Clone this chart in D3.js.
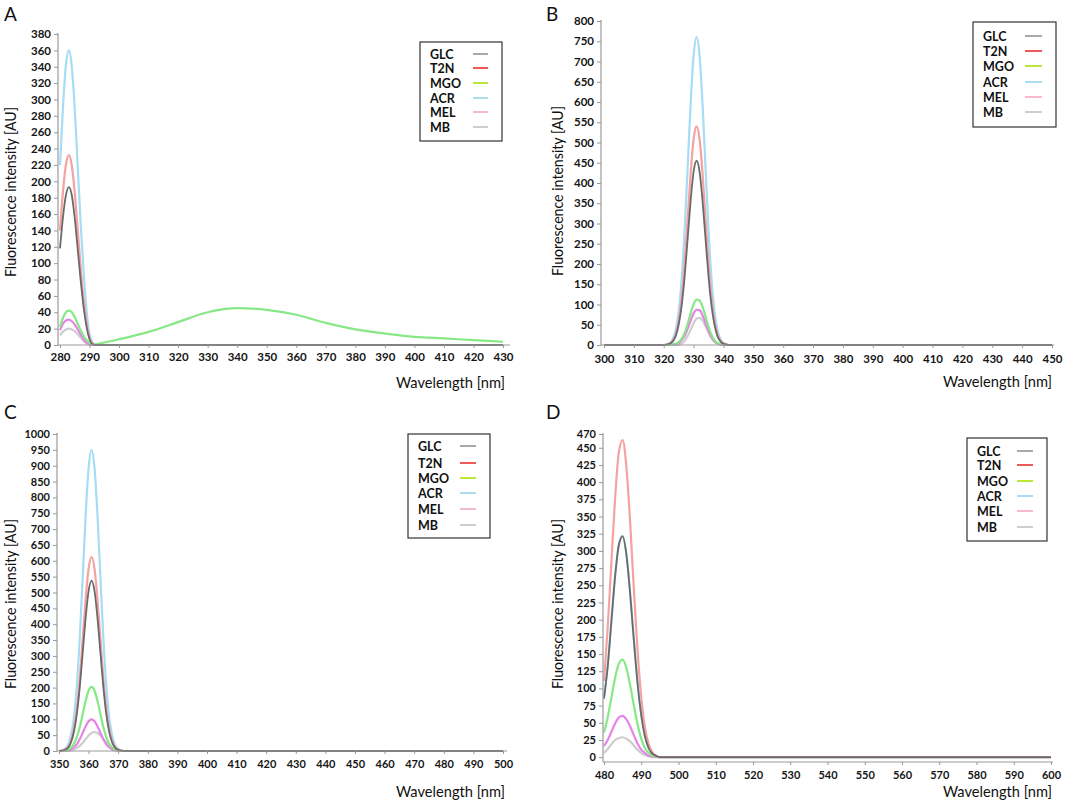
<!DOCTYPE html>
<html><head><meta charset="utf-8">
<script src="https://cdn.jsdelivr.net/npm/d3@7"></script>
<style>body{margin:0;background:#fff}svg{display:block}</style>
</head><body><svg id="c" width="1065" height="805"></svg>
<script>
// ---------- data ----------
const seriesNames = ["GLC","T2N","MGO","ACR","MEL","MB"];

// Panel A
const wlA  = [280,281,282,283,284,285,286,287,288,289,290,291,292,293,295,300,310,320,330,340,350,360,370,380,390,400,410,420,430];
const glcA = [118,156,183,193,183,155,117,79,46,22,7,1,0,0,0,0,0,0,0,0,0,0,0,0,0,0,0,0,0];
const t2nA = [140,187,220,232,219,186,141,95,56,27,9,2,0,0,0,0,0,0,0,0,0,0,0,0,0,0,0,0,0];
const mgoA = [22,33,40,42,40,34,26,18,11,6,3,1.5,1,1.5,3,7,16,28,40,45,43,37,27,19,14,10,8,6,4];
const acrA = [220,290,342,360,340,288,218,148,90,42,14,3,0,0,0,0,0,0,0,0,0,0,0,0,0,0,0,0,0];
const melA = [18,26,30,31,29,25,19,13,7,3,1,0,0,0,0,0,0,0,0,0,0,0,0,0,0,0,0,0,0];
const mbA  = [12,16,19,20,19,17,13,9,5,2,1,0,0,0,0,0,0,0,0,0,0,0,0,0,0,0,0,0,0];
const xTicksA = [280,290,300,310,320,330,340,350,360,370,380,390,400,410,420,430];
const yTicksA = [0,20,40,60,80,100,120,140,160,180,200,220,240,260,280,300,320,340,360,380];

// Panel B
const wlB  = [300,319,320,321,322,323,324,325,326,327,328,329,330,331,332,333,334,335,336,337,338,339,340,341,342,450];
const glcB = [0,0,0,1,3,9,22,50,97,169,262,356,428,455,428,356,262,169,97,50,22,9,3,1,0,0];
const t2nB = [0,0,0,1,4,10,26,59,116,201,311,422,508,540,508,422,311,201,116,59,26,10,4,1,0,0];
const mgoB = [0,0,0,0,0,1,3,7,16,30,52,78,101,112,110,94,70,45,25,12,5,2,1,0,0,0];
const acrB = [0,0,0,2,5,14,37,83,163,283,437,594,714,760,714,594,437,283,163,83,37,14,5,2,0,0];
const melB = [0,0,0,0,0,1,2,5,12,23,40,60,78,87,86,73,54,35,19,9,4,1,0,0,0,0];
const mbB  = [0,0,0,0,0,0,0,1,4,10,22,38,54,65,67,60,46,30,17,8,3,1,0,0,0,0];
const xTicksB = [300,310,320,330,340,350,360,370,380,390,400,410,420,430,440,450];
const yTicksB = [0,50,100,150,200,250,300,350,400,450,500,550,600,650,700,750,800];

// Panel C
const wlC  = [350,351,352,353,354,355,356,357,358,359,360,361,362,363,364,365,366,367,368,369,370,371,372,500];
const glcC = [0,1,4,10,26,59,115,200,309,420,505,537,505,420,309,200,115,59,26,10,4,1,0,0];
const t2nC = [0,1,4,12,30,67,131,228,352,479,575,612,575,479,352,228,131,67,30,12,4,1,0,0];
const mgoC = [0,0,1,4,10,22,43,75,116,158,190,202,190,158,116,75,43,22,10,4,1,0,0,0];
const acrC = [0,2,7,18,47,104,203,354,546,743,893,950,893,743,546,354,203,104,47,18,7,2,0,0];
const melC = [0,0,0,2,5,11,21,37,57,78,94,100,94,78,57,37,21,11,5,2,0,0,0,0];
const mbC  = [0,0,0,1,2,5,9,16,26,37,49,57,60,57,49,37,26,16,9,5,2,1,0,0];
const xTicksC = [350,360,370,380,390,400,410,420,430,440,450,460,470,480,490,500];
const yTicksC = [0,50,100,150,200,250,300,350,400,450,500,550,600,650,700,750,800,850,900,950,1000];

// Panel D
const wlD  = [480,481,482,483,484,485,486,487,488,489,490,491,492,493,494,495,496,600];
const glcD = [85,132,198,264,309,321,295,239,171,108,61,30,13,5,2,0,0,0];
const t2nD = [111,189,285,378,444,461,423,343,246,156,87,43,19,7,2,0,0,0];
const mgoD = [36,58,87,116,136,142,130,105,76,48,27,13,6,2,1,0,0,0];
const acrD = [87,134,200,265,310,322,296,240,172,109,62,31,14,5,2,0,0,0];
const melD = [16,25,37,49,58,60,55,45,32,20,11,6,2,1,0,0,0,0];
const mbD  = [6,12,19,25,28,29,27,23,17,11,6,3,1,0,0,0,0,0];
const xTicksD = [480,490,500,510,520,530,540,550,560,570,580,590,600];
const yTicksD = [0,25,50,75,100,125,150,175,200,225,250,275,300,325,350,375,400,425,450,470];

// ---------- styles ----------
const curveColor  = {GLC:"#6a6a6a", T2N:"#f4a2a2", MGO:"#86e886", ACR:"#a6dcf4", MEL:"#e683e6", MB:"#cdcdcd"};
const legendColor = {GLC:"#a0a0a0", T2N:"#ee4747", MGO:"#b4e424", ACR:"#a2d8ee", MEL:"#f6b2c6", MB:"#c9c9c9"};
const drawOrder = ["MB","MEL","MGO","ACR","T2N","GLC"];

const panels = [
  {label:"A", lx:4, ly:21, wl:wlA, d:{GLC:glcA,T2N:t2nA,MGO:mgoA,ACR:acrA,MEL:melA,MB:mbA},
   xt:xTicksA, yt:yTicksA, xd:[280,430], yd:[0,380], xr:[60,503], yr:[345,34], axX:58, axXEnd:510, axY:345, axTop:33,
   tickFs:11.5, xLabY:361, yTitleX:16, yTitleC:192, xTitleEnd:505, xTitleY:388,
   leg:{x0:420,y0:42,x1:502,y1:141,tx:430,l0:473,l1:488,rows:[54,68,83,98,112,127]}},
  {label:"B", lx:546, ly:21, wl:wlB, d:{GLC:glcB,T2N:t2nB,MGO:mgoB,ACR:acrB,MEL:melB,MB:mbB},
   xt:xTicksB, yt:yTicksB, xd:[300,450], yd:[0,800], xr:[604,1052], yr:[345,21], axX:601, axXEnd:1054, axY:345, axTop:20,
   tickFs:11.5, xLabY:363, yTitleX:563, yTitleC:191, xTitleEnd:1052, xTitleY:387,
   leg:{x0:973,y0:22,x1:1056,y1:127,tx:983,l0:1025,l1:1042,rows:[36,51,66,82,97,112]}},
  {label:"C", lx:4, ly:419, wl:wlC, d:{GLC:glcC,T2N:t2nC,MGO:mgoC,ACR:acrC,MEL:melC,MB:mbC},
   xt:xTicksC, yt:yTicksC, xd:[350,500], yd:[0,1000], xr:[59,503], yr:[751,434], axX:57, axXEnd:507, axY:751, axTop:433,
   tickFs:11, xLabY:768, yTitleX:16, yTitleC:604, xTitleEnd:505, xTitleY:797,
   leg:{x0:408,y0:434,x1:490,y1:538,tx:418,l0:460,l1:476,rows:[446,463,478,493,509,525]}},
  {label:"D", lx:546, ly:419, wl:wlD, d:{GLC:glcD,T2N:t2nD,MGO:mgoD,ACR:acrD,MEL:melD,MB:mbD},
   xt:xTicksD, yt:yTicksD, xd:[480,600], yd:[-7,470], xr:[604,1051], yr:[762,434], axX:603, axXEnd:1053, axY:762, axTop:433,
   tickFs:11, xLabY:779, yTitleX:563, yTitleC:604, xTitleEnd:1052, xTitleY:797,
   leg:{x0:967,y0:438,x1:1047,y1:541,tx:977,l0:1017,l1:1033,rows:[451,465,481,496,511,527]}}
];

const svg = d3.select("#c");
const FONT = "Lato, 'Open Sans', 'DejaVu Sans', sans-serif";

panels.forEach(p => {
  const g = svg.append("g");
  const x = d3.scaleLinear().domain(p.xd).range(p.xr);
  const y = d3.scaleLinear().domain(p.yd).range(p.yr);

  // panel letter
  g.append("text").attr("x", p.lx).attr("y", p.ly).text(p.label)
    .attr("font-family", FONT).attr("font-size", 19).attr("fill", "#111");

  // curves
  drawOrder.forEach(name => {
    const vals = p.d[name];
    const pts = p.wl.map((w, i) => [w, vals[i]]);
    const line = d3.line().x(d => x(d[0])).y(d => y(d[1])).curve(d3.curveMonotoneX);
    g.append("path").attr("d", line(pts)).attr("fill", "none")
      .attr("stroke", curveColor[name]).attr("stroke-width", name === "GLC" ? 1.8 : 2.2)
      .attr("stroke-linejoin", "round");
  });

  // y axis
  const ya = d3.axisLeft(y).tickValues(p.yt).tickSize(4).tickPadding(3).tickFormat(d3.format("d"));
  const yg = g.append("g").attr("transform", `translate(${p.axX},0)`).call(ya);
  yg.select(".domain").remove();
  yg.selectAll(".tick line").attr("stroke", "#999");
  yg.selectAll(".tick text").attr("font-family", FONT).attr("font-weight", "bold")
    .attr("font-size", p.tickFs).attr("fill", "#161616");
  g.append("line").attr("x1", p.axX).attr("x2", p.axX).attr("y1", p.axTop).attr("y2", p.axY)
    .attr("stroke", "#9a9a9a").attr("stroke-width", 1.2);

  // x axis
  const xa = d3.axisBottom(x).tickValues(p.xt).tickSize(3).tickFormat(d3.format("d"));
  const xg = g.append("g").attr("transform", `translate(0,${p.axY})`).call(xa);
  xg.select(".domain").remove();
  xg.selectAll(".tick line").attr("stroke", "#999");
  xg.selectAll(".tick text").attr("font-family", FONT).attr("font-weight", "bold")
    .attr("font-size", p.tickFs).attr("fill", "#161616")
    .attr("y", null).attr("dy", null)
    .attr("transform", `translate(0,${p.xLabY - p.axY})`);
  g.append("line").attr("x1", p.axX).attr("x2", p.axXEnd).attr("y1", p.axY).attr("y2", p.axY)
    .attr("stroke", "#9a9a9a").attr("stroke-width", 1.2);

  // axis titles
  g.append("text").text("Fluorescence intensity [AU]")
    .attr("transform", `translate(${p.yTitleX},${p.yTitleC}) rotate(-90)`)
    .attr("text-anchor", "middle").attr("font-family", FONT).attr("font-size", 14.5)
    .attr("textLength", 170).attr("lengthAdjust", "spacingAndGlyphs").attr("fill", "#111");
  g.append("text").text("Wavelength [nm]")
    .attr("x", p.xTitleEnd).attr("y", p.xTitleY).attr("text-anchor", "end")
    .attr("font-family", FONT).attr("font-size", 15)
    .attr("textLength", 109).attr("lengthAdjust", "spacingAndGlyphs").attr("fill", "#111");

  // legend
  const L = p.leg;
  g.append("rect").attr("x", L.x0).attr("y", L.y0).attr("width", L.x1 - L.x0).attr("height", L.y1 - L.y0)
    .attr("fill", "#fff").attr("stroke", "#333").attr("stroke-width", 1.2);
  seriesNames.forEach((name, i) => {
    g.append("text").attr("x", L.tx).attr("y", L.rows[i]).attr("dy", "0.36em").text(name)
      .attr("font-family", FONT).attr("font-weight", "bold").attr("font-size", 12.5).attr("fill", "#111");
    g.append("line").attr("x1", L.l0).attr("x2", L.l1).attr("y1", L.rows[i]).attr("y2", L.rows[i])
      .attr("stroke", legendColor[name]).attr("stroke-width", 1.8);
  });
});
</script>
</body></html>
